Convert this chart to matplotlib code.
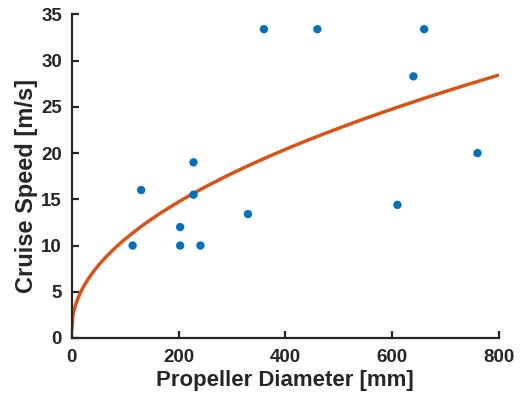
import numpy as np
import matplotlib.pyplot as plt

plt.rcParams['font.family'] = ['Liberation Sans', 'DejaVu Sans']
plt.rcParams['font.weight'] = 'bold'

# Measured data
diameter = [114, 130, 203, 203, 228, 228, 241, 330, 360, 460, 610, 640, 660, 760]
speed = [10, 16, 12, 10, 19, 15.5, 10, 13.4, 33.4, 33.4, 14.4, 28.3, 33.4, 20]

# Power-law fit y = c + a*x^b (parameters)
fit_a = 0.97
fit_b = 0.5
fit_c = 1.0
x_fit = np.linspace(0, 800, 400)
y_fit = fit_c + fit_a * x_fit ** fit_b

fig = plt.figure(figsize=(5.24, 4), dpi=100)
ax = fig.add_axes([0.137, 0.155, 0.815, 0.809])

ax.plot(x_fit, y_fit, color='#D95319', linewidth=2.5, zorder=2)
ax.scatter(diameter, speed, s=36, color='#0072BD', zorder=3, edgecolors='none')

ax.set_xlim(0, 800)
ax.set_ylim(0, 35)
ax.set_xticks([0, 200, 400, 600, 800])
ax.set_yticks(range(0, 36, 5))

ax.spines['top'].set_visible(False)
ax.spines['right'].set_visible(False)
for s in ['left', 'bottom']:
    ax.spines[s].set_color('#262626')
    ax.spines[s].set_linewidth(1.6)
ax.tick_params(direction='in', length=5, width=1.6, color='#262626',
               labelsize=13.5, labelcolor='#262626')
ax.tick_params(axis='x', pad=8)
ax.tick_params(axis='y', pad=7)

ax.set_xlabel('Propeller Diameter [mm]', fontsize=16, fontweight='bold', color='#262626', labelpad=3)
ax.set_ylabel('Cruise Speed [m/s]', fontsize=17, fontweight='bold', color='#262626')
ax.yaxis.set_label_coords(-0.078, 0.47)

fig.savefig('out.png', dpi=100)
